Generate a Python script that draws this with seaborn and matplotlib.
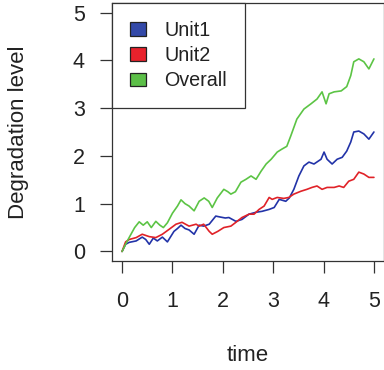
import matplotlib
matplotlib.use("Agg")
import matplotlib.pyplot as plt
from matplotlib.patches import Patch
import seaborn as sns
import pandas as pd

series_names = ["Unit1", "Unit2", "Overall"]

t_overall = [0.00, 0.07, 0.14, 0.25, 0.34, 0.42, 0.50, 0.58, 0.67, 0.75, 0.82, 0.90,
             1.00, 1.10, 1.17, 1.25, 1.33, 1.43, 1.53, 1.63, 1.72, 1.79, 1.89, 2.02,
             2.10, 2.16, 2.25, 2.36, 2.46, 2.56, 2.66, 2.76, 2.86, 2.96, 3.08, 3.17,
             3.27, 3.35, 3.47, 3.61, 3.75, 3.87, 3.97, 4.05, 4.11, 4.21, 4.35, 4.46,
             4.54, 4.60, 4.70, 4.80, 4.90, 5.00]
v_overall = [0.00, 0.15, 0.29, 0.50, 0.62, 0.55, 0.62, 0.50, 0.63, 0.55, 0.50, 0.60,
             0.80, 0.95, 1.08, 1.00, 0.95, 0.85, 1.05, 1.12, 1.05, 0.92, 1.12, 1.30,
             1.25, 1.20, 1.25, 1.45, 1.51, 1.58, 1.51, 1.68, 1.83, 1.93, 2.08, 2.14,
             2.20, 2.42, 2.77, 2.98, 3.09, 3.19, 3.34, 3.09, 3.30, 3.34, 3.36, 3.45,
             3.68, 3.97, 4.03, 3.97, 3.82, 4.03]

t_unit1 = [0.00, 0.07, 0.14, 0.28, 0.40, 0.47, 0.54, 0.62, 0.70, 0.80, 0.90, 1.03,
           1.10, 1.17, 1.25, 1.33, 1.43, 1.53, 1.62, 1.73, 1.86, 1.95, 2.05, 2.12,
           2.26, 2.38, 2.52, 2.66, 2.78, 2.92, 3.02, 3.12, 3.25, 3.32, 3.41, 3.51,
           3.61, 3.71, 3.81, 3.95, 4.01, 4.07, 4.17, 4.27, 4.37, 4.46, 4.54, 4.60,
           4.70, 4.80, 4.90, 5.00]
v_unit1 = [0.00, 0.15, 0.19, 0.22, 0.30, 0.25, 0.15, 0.28, 0.22, 0.30, 0.20, 0.42,
           0.48, 0.55, 0.48, 0.45, 0.36, 0.55, 0.53, 0.57, 0.74, 0.72, 0.70, 0.71,
           0.63, 0.67, 0.78, 0.82, 0.84, 0.88, 0.92, 1.09, 1.05, 1.12, 1.30, 1.58,
           1.79, 1.87, 1.83, 1.93, 2.08, 1.93, 1.83, 1.93, 1.97, 2.10, 2.29, 2.50,
           2.52, 2.46, 2.35, 2.50]

t_unit2 = [0.00, 0.07, 0.14, 0.28, 0.40, 0.54, 0.67, 0.80, 0.93, 1.07, 1.19, 1.33,
           1.47, 1.53, 1.62, 1.73, 1.79, 1.90, 2.02, 2.16, 2.26, 2.38, 2.52, 2.62,
           2.72, 2.82, 2.92, 2.98, 3.08, 3.21, 3.31, 3.41, 3.55, 3.67, 3.77, 3.87,
           3.97, 4.07, 4.21, 4.31, 4.40, 4.50, 4.60, 4.70, 4.80, 4.90, 5.00]
v_unit2 = [0.00, 0.20, 0.25, 0.29, 0.36, 0.31, 0.29, 0.36, 0.46, 0.57, 0.61, 0.53,
           0.57, 0.53, 0.57, 0.42, 0.36, 0.42, 0.50, 0.53, 0.61, 0.71, 0.78, 0.78,
           0.88, 0.95, 1.13, 1.09, 1.13, 1.11, 1.13, 1.20, 1.26, 1.30, 1.34, 1.37,
           1.30, 1.34, 1.34, 1.37, 1.34, 1.47, 1.51, 1.66, 1.62, 1.55, 1.55]

x_ticks = [0, 1, 2, 3, 4, 5]
y_ticks = [0, 1, 2, 3, 4, 5]

line_colors = {"Unit1": "#2233a8", "Unit2": "#e02228", "Overall": "#5cc445"}
patch_colors = {"Unit1": "#3349a8", "Unit2": "#e8222c", "Overall": "#5cbf48"}

frames = []
for name, t, v in [("Unit1", t_unit1, v_unit1), ("Unit2", t_unit2, v_unit2),
                   ("Overall", t_overall, v_overall)]:
    frames.append(pd.DataFrame({"time": t, "value": v, "series": name}))
df = pd.concat(frames, ignore_index=True)

sns.set_style("ticks")
plt.rcParams["font.family"] = ["Liberation Sans", "DejaVu Sans"]

fig = plt.figure(figsize=(3.84, 3.70), dpi=100)
ax = fig.add_axes([112 / 384, 1 - 261 / 370, 272 / 384, 258 / 370])

sns.lineplot(data=df, x="time", y="value", hue="series", hue_order=series_names,
             palette=line_colors, linewidth=1.2, legend=False, ax=ax,
             estimator=None, sort=False)

ax.set_xlim(-0.2, 5.2)
ax.set_ylim(-0.2, 5.2)
ax.set_xticks(x_ticks)
ax.set_yticks(y_ticks)
ax.set_xticklabels([str(x) for x in x_ticks])
ax.set_yticklabels([str(y) for y in y_ticks])
ax.tick_params(axis="both", direction="out", length=8.6, width=0.9, color="#333333",
               labelsize=15.5, labelcolor="#222222")
ax.tick_params(axis="y", pad=11)
ax.tick_params(axis="x", pad=13)
for s in ax.spines.values():
    s.set_visible(True)
    s.set_color("#333333")
    s.set_linewidth(0.9)

ax.set_xlabel("time", fontsize=16, color="#222222")
ax.set_ylabel("Degradation level", fontsize=16, color="#222222")
ax.xaxis.set_label_coords(0.5, -0.325)
ax.yaxis.set_label_coords(-0.305, 0.5)

handles = [Patch(facecolor=patch_colors[n], edgecolor="#222222", linewidth=0.9)
           for n in series_names]
leg = ax.legend(handles, series_names, loc="upper left", bbox_to_anchor=(0, 1),
                borderaxespad=0, fontsize=14.2, frameon=True, fancybox=False,
                edgecolor="#333333", framealpha=1, handlelength=0.8,
                handleheight=0.7, handletextpad=0.95, labelspacing=0.32,
                borderpad=0.9)
leg.get_frame().set_linewidth(0.9)
for txt in leg.get_texts():
    txt.set_color("#222222")

fig.savefig("out.png", dpi=100)
